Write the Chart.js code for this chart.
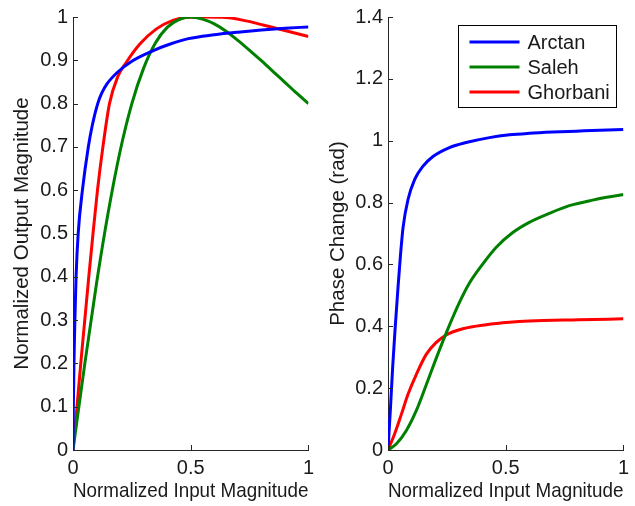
<!DOCTYPE html>
<html><head><meta charset="utf-8">
<script src="https://cdn.jsdelivr.net/npm/chart.js@4.4.0/dist/chart.umd.min.js"></script>
<style>
html,body{margin:0;padding:0;background:#fff;}
#wrap{position:relative;width:635px;height:506px;overflow:hidden;}
#c1{position:absolute;left:0;top:0;}
#c2{position:absolute;left:320px;top:0;}
</style></head><body>
<div id="wrap"><canvas id="c1" width="320" height="506"></canvas><canvas id="c2" width="315" height="506"></canvas></div>
<script>
// ---- series meta ----
const seriesNames = ['Arctan', 'Saleh', 'Ghorbani'];
const seriesColors = ['#0000ff', '#008000', '#ff0000'];

// ---- amplitude (left plot) ----
const arctanAmpX = [0, 0.0015, 0.004, 0.008, 0.013, 0.022, 0.04, 0.065, 0.082, 0.105, 0.122, 0.145, 0.19, 0.25, 0.339, 0.41, 0.49, 0.6, 0.7, 0.8, 0.9, 1];
const arctanAmpY = [0, 0.1, 0.2, 0.3, 0.4, 0.5, 0.6, 0.7, 0.75, 0.80, 0.824, 0.846, 0.873, 0.898, 0.922, 0.937, 0.950, 0.959, 0.965, 0.970, 0.974, 0.977];

const salehAmpX = [0, 0.05, 0.1, 0.15, 0.2, 0.25, 0.3, 0.35, 0.4, 0.45, 0.5, 0.55, 0.6, 0.65, 0.7, 0.75, 0.8, 0.85, 0.9, 0.95, 1];
const salehAmpY = [0, 0.199, 0.385, 0.550, 0.690, 0.800, 0.882, 0.940, 0.976, 0.994, 1.0, 0.995, 0.984, 0.967, 0.946, 0.923, 0.899, 0.874, 0.849, 0.824, 0.80];

const ghorbaniAmpX = [0, 0.017, 0.033, 0.05, 0.067, 0.085, 0.104, 0.127, 0.155, 0.19, 0.226, 0.283, 0.353, 0.424, 0.48, 0.55, 0.65, 0.735, 0.862, 1];
const ghorbaniAmpY = [0, 0.1, 0.2, 0.3, 0.4, 0.5, 0.6, 0.7, 0.80, 0.862, 0.895, 0.937, 0.972, 0.992, 0.999, 1.0, 0.999, 0.991, 0.974, 0.955];

// ---- phase (right plot) ----
const arctanPhX = [0, 0.01, 0.02, 0.03, 0.042, 0.053, 0.064, 0.085, 0.113, 0.148, 0.191, 0.261, 0.332, 0.431, 0.516, 0.6, 0.7, 0.8, 0.9, 1];
const arctanPhY = [0, 0.13, 0.27, 0.39, 0.52, 0.63, 0.72, 0.81, 0.874, 0.917, 0.949, 0.978, 0.994, 1.01, 1.019, 1.024, 1.028, 1.031, 1.034, 1.036];

const salehPhX = [0, 0.036, 0.078, 0.12, 0.163, 0.205, 0.247, 0.304, 0.346, 0.403, 0.459, 0.53, 0.6, 0.685, 0.77, 0.869, 1];
const salehPhY = [0, 0.02, 0.063, 0.127, 0.212, 0.297, 0.378, 0.478, 0.54, 0.602, 0.655, 0.703, 0.736, 0.765, 0.79, 0.808, 0.826];

const ghorbaniPhX = [0, 0.028, 0.057, 0.085, 0.12, 0.163, 0.205, 0.247, 0.318, 0.417, 0.516, 0.6, 0.81, 1];
const ghorbaniPhY = [0, 0.052, 0.116, 0.18, 0.244, 0.31, 0.348, 0.372, 0.392, 0.405, 0.413, 0.417, 0.421, 0.424];

// ---- ticks ----
const xTickValues = [0, 0.5, 1];
const xTickLabels = ['0', '0.5', '1'];
const ampTickValues = [0, 0.1, 0.2, 0.3, 0.4, 0.5, 0.6, 0.7, 0.8, 0.9, 1];
const ampTickLabels = ['0', '0.1', '0.2', '0.3', '0.4', '0.5', '0.6', '0.7', '0.8', '0.9', '1'];
const phTickValues = [0, 0.2, 0.4, 0.6, 0.8, 1, 1.2, 1.4];
const phTickLabels = ['0', '0.2', '0.4', '0.6', '0.8', '1', '1.2', '1.4'];

// ---- titles ----
const xTitle = 'Normalized Input Magnitude';
const ampTitle = 'Normalized Output Magnitude';
const phTitle = 'Phase Change (rad)';

Chart.defaults.font.family = "'Liberation Sans', Arial, Helvetica, sans-serif";
Chart.defaults.font.size = 20;
Chart.defaults.color = '#1a1a1a';

function zip(xs, ys) { return xs.map((x, i) => ({x: x, y: ys[i]})); }

function makeDatasets(sets) {
  return sets.map((s, i) => ({
    label: seriesNames[i],
    data: zip(s[0], s[1]),
    borderColor: seriesColors[i],
    backgroundColor: seriesColors[i],
    borderWidth: 3,
    pointRadius: 0,
    fill: false,
    cubicInterpolationMode: 'monotone'
  }));
}

const axisColor = '#262626';

const inwardTicks = {
  id: 'inwardTicks',
  afterDraw(chart) {
    const ctx = chart.ctx, ca = chart.chartArea;
    ctx.save();
    ctx.strokeStyle = axisColor;
    ctx.lineWidth = 1;
    const xs = chart.scales.x, ys = chart.scales.y;
    xs.ticks.forEach(t => {
      const px = Math.round(xs.getPixelForValue(t.value)) + 0.5;
      ctx.beginPath(); ctx.moveTo(px, ca.bottom); ctx.lineTo(px, ca.bottom - 5); ctx.stroke();
    });
    ys.ticks.forEach(t => {
      const py = Math.round(ys.getPixelForValue(t.value)) + 0.5;
      ctx.beginPath(); ctx.moveTo(ca.left, py); ctx.lineTo(ca.left + 5, py); ctx.stroke();
    });
    ctx.restore();
  }
};

const boxLegend = {
  id: 'boxLegend',
  afterDraw(chart, args, opts) {
    if (!opts || !opts.show) return;
    const ctx = chart.ctx, ca = chart.chartArea;
    const w = 158, h = 82;
    const bx = Math.round(ca.right - 7.5 - w) + 0.5, by = Math.round(ca.top + 8) + 0.5;
    ctx.save();
    ctx.fillStyle = '#ffffff';
    ctx.fillRect(bx, by, w, h);
    ctx.strokeStyle = '#000000';
    ctx.lineWidth = 1;
    ctx.strokeRect(bx, by, w, h);
    ctx.font = "20px 'Liberation Sans', Arial, sans-serif";
    ctx.textBaseline = 'middle';
    ctx.textAlign = 'left';
    chart.data.datasets.forEach((ds, i) => {
      const ry = by + 16.5 + i * 25;
      ctx.strokeStyle = ds.borderColor;
      ctx.lineWidth = 3;
      ctx.beginPath(); ctx.moveTo(bx + 11, ry); ctx.lineTo(bx + 61, ry); ctx.stroke();
      ctx.fillStyle = '#1a1a1a';
      ctx.fillText(ds.label, bx + 69, ry + 1);
    });
    ctx.restore();
  }
};

function makeChart(canvasId, datasets, yMin, yMax, yVals, yLabels, yTitle, yWidth, yTitlePad, showLegend) {
  return new Chart(document.getElementById(canvasId), {
    type: 'line',
    data: { datasets: datasets },
    options: {
      responsive: false,
      animation: false,
      layout: { padding: { top: 13, right: 11, bottom: 0, left: 0 } },
      plugins: { legend: { display: false }, tooltip: { enabled: false }, boxLegend: { show: showLegend } },
      scales: {
        x: {
          type: 'linear', min: 0, max: 1,
          grid: { display: false, drawTicks: false },
          border: { display: true, color: axisColor, width: 1 },
          afterBuildTicks: s => { s.ticks = xTickValues.map(v => ({ value: v })); },
          ticks: { padding: 6, color: '#1a1a1a', maxRotation: 0, autoSkip: false,
                   callback: (v, i) => xTickLabels[i] },
          title: { display: true, text: xTitle, color: '#1a1a1a', font: { size: 21 }, padding: { top: 0, bottom: 2 } },
          afterFit: s => { s.height = 56; }
        },
        y: {
          type: 'linear', min: yMin, max: yMax,
          grid: { display: false, drawTicks: false },
          border: { display: true, color: axisColor, width: 1 },
          afterBuildTicks: s => { s.ticks = yVals.map(v => ({ value: v })); },
          ticks: { padding: 5, color: '#1a1a1a', autoSkip: false,
                   callback: (v, i) => yLabels[i] },
          title: { display: true, text: yTitle, color: '#1a1a1a', font: { size: 20.5 }, padding: { top: yTitlePad, bottom: 0 } },
          afterFit: s => { s.width = yWidth; }
        }
      }
    },
    plugins: [inwardTicks, boxLegend]
  });
}

makeChart('c1',
  makeDatasets([[arctanAmpX, arctanAmpY], [salehAmpX, salehAmpY], [ghorbaniAmpX, ghorbaniAmpY]]),
  0, 1, ampTickValues, ampTickLabels, ampTitle, 73, 10, false);

makeChart('c2',
  makeDatasets([[arctanPhX, arctanPhY], [salehPhX, salehPhY], [ghorbaniPhX, ghorbaniPhY]]),
  0, 1.4, phTickValues, phTickLabels, phTitle, 68, 6, true);
</script>
</body></html>
